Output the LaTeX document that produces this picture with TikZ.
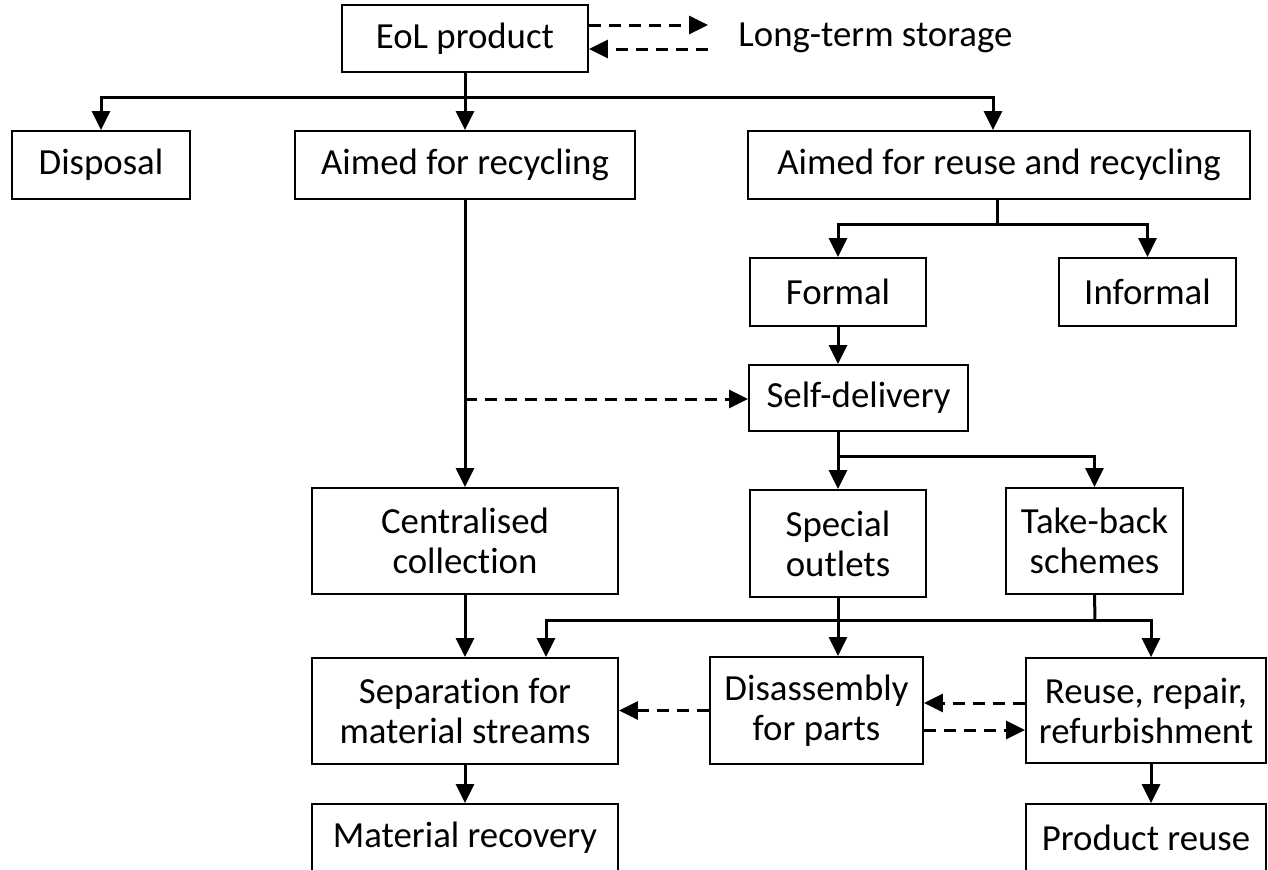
\documentclass[tikz,border=0pt]{standalone}
\usepackage{fontspec}
\setmainfont{Carlito}[Ligatures=NoCommon]
\usepackage{tikz}
\usetikzlibrary{arrows.meta, positioning, calc}

\begin{document}
\begin{tikzpicture}[
    x=0.5pt, y=-0.5pt,
    >={Triangle[length=9.5pt, width=9pt]},
    every node/.style={font=\fontsize{18.4}{20}\selectfont},
    box/.style={draw, line width=0.9pt, inner sep=0pt, align=center},
    conn/.style={line width=1.5pt},
    arr/.style={conn, ->},
    darr/.style={line width=1.5pt, dash pattern=on 6pt off 4pt, ->},
]
    \useasboundingbox (0,0) rectangle (1268,869);

    % Top level
    \node[box, minimum width=123pt, minimum height=33.5pt] (eol) at (465,38.5) {EoL product};
    \node[inner sep=0pt, anchor=west] (store) at (738,38) {Long-term storage};
    \draw[darr, shorten >=15pt] ([yshift=6.75pt]eol.east) -- ([yshift=6.75pt]eol.east -| store.west);
    \draw[darr, shorten <=15pt] ([yshift=-5.25pt]eol.east -| store.west) -- ([yshift=-5.25pt]eol.east);

    \node[box, minimum width=89pt, minimum height=34pt] (disp) at (101,165) {Disposal};
    \node[box, minimum width=170pt, minimum height=34pt] (arec) at (465,165) {Aimed for recycling};
    \node[box, minimum width=251pt, minimum height=34pt] (areu) at (999,165) {Aimed for reuse and recycling};

    \coordinate (t1) at (465,97);
    \draw[conn] (eol.south) -- (t1);
    \draw[arr] (t1) -| (disp.north);
    \draw[arr] (t1) -- (arec.north);
    \draw[arr] (t1) -| ([xshift=-3pt]areu.north);

    % Reuse and recycling branch
    \node[box, minimum width=88pt, minimum height=34pt] (formal) at (838,292) {Formal};
    \node[box, minimum width=88.5pt, minimum height=34pt] (informal) at (1147.5,292) {Informal};
    \node[box, minimum width=109.5pt, minimum height=33pt] (self) at (858.5,398) {Self-delivery};

    \coordinate (t2) at (997,224);
    \draw[conn] (areu.south -| t2) -- (t2);
    \draw[arr] (t2) -| (formal.north);
    \draw[arr] (t2) -| (informal.north);
    \draw[arr] (formal.south) -- (formal.south |- self.north);

    \node[box, minimum width=88pt, minimum height=53.5pt] (spec) at (838,543.5) {Special\\outlets};
    \node[box, minimum width=88.5pt, minimum height=53pt] (take) at (1094.5,541) {Take-back\\schemes};

    \coordinate (t3) at (838,456);
    \draw[conn] (self.south -| t3) -- (t3);
    \draw[arr] (t3) -- (spec.north);
    \draw[arr] (t3) -| (take.north);

    % Recycling branch
    \node[box, minimum width=153pt, minimum height=53pt] (cent) at (465,541) {Centralised\\collection};
    \coordinate (d1) at (465,399);
    \draw[arr] (arec.south) -- (cent.north);
    \draw[darr] (d1) -- (d1 -| self.west);

    % Treatment
    \node[box, minimum width=153pt, minimum height=53pt] (sep) at (465,711) {Separation for\\material streams};
    \node[box, minimum width=106.5pt, minimum height=53.5pt] (dis) at (816.5,710.5) {Disassembly\\for parts};
    \node[box, minimum width=120pt, minimum height=52.5pt] (reu) at (1146,710.5) {Reuse, repair,\\refurbishment};

    \coordinate (t4) at (1095,620);
    \coordinate (t5) at (546,620);
    \coordinate (t6) at (1151,620);
    \draw[conn] (take.south) -- (t4);
    \draw[arr] (t4) -- (t5) -- (t5 |- sep.north);
    \draw[arr] (t4) -- (t6) -- (t6 |- reu.north);
    \draw[arr] (spec.south) -- (spec.south |- dis.north);
    \draw[arr] (cent.south) -- (sep.north);

    \draw[darr] (dis.west) -- (dis.west -| sep.east);
    \draw[darr] ([yshift=3.75pt]reu.west) -- ([yshift=3.75pt]reu.west -| dis.east);
    \draw[darr] ([yshift=-9.75pt]dis.east) -- ([yshift=-9.75pt]dis.east -| reu.west);

    % Outcomes
    \node[box, minimum width=153pt, minimum height=34pt] (matrec) at (465,838) {Material recovery};
    \node[box, minimum width=120pt, minimum height=34pt] (prodreu) at (1146,838) {Product reuse};
    \draw[arr] (sep.south) -- (matrec.north);
    \draw[arr] (t6 |- reu.south) -- (t6 |- prodreu.north);
\end{tikzpicture}
\end{document}
